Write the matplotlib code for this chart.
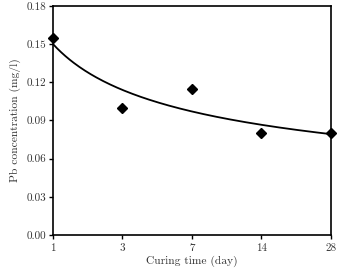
import matplotlib
matplotlib.use("Agg")
import matplotlib.pyplot as plt
import numpy as np

plt.rcParams["font.family"] = ["cmr10", "DejaVu Serif"]
plt.rcParams["axes.formatter.use_mathtext"] = True

days = ["1", "3", "7", "14", "28"]
pb_conc = [0.155, 0.100, 0.115, 0.080, 0.080]


def main():
    fig = plt.figure(figsize=(3.39, 2.68), dpi=100)
    ax = fig.add_axes([0.156, 0.123, 0.82, 0.855])

    pos = np.arange(len(days))
    ax.plot(pos, pb_conc, "D", color="black", markersize=4.8, clip_on=False, zorder=3)

    # power-law trendline on category index (1..n)
    idx = pos + 1
    b, lna = np.polyfit(np.log(idx), np.log(pb_conc), 1)
    xs = np.linspace(1, len(days), 200)
    ax.plot(xs - 1, np.exp(lna) * xs ** b, color="black", linewidth=1.3)

    ax.set_xlim(0, len(days) - 1)
    ax.set_ylim(0, 0.18)
    ax.set_xticks(pos)
    ax.set_xticklabels(days)
    ax.set_yticks(np.arange(0, 0.181, 0.03))
    ax.set_yticklabels([f"{v:.2f}" for v in np.arange(0, 0.181, 0.03)])
    ax.tick_params(direction="out", length=3, width=1, labelsize=8,
                   labelcolor="#333333")
    ax.tick_params(axis="x", pad=3)
    ax.tick_params(axis="y", pad=2)
    for s in ax.spines.values():
        s.set_linewidth(1.2)

    ax.set_xlabel("Curing time (day)", fontsize=8.3, labelpad=2, color="#333333")
    ax.set_ylabel("Pb concentration (mg/l)", fontsize=8.3, labelpad=4, color="#333333")

    fig.savefig("out.png", dpi=100)


if __name__ == "__main__":
    main()
